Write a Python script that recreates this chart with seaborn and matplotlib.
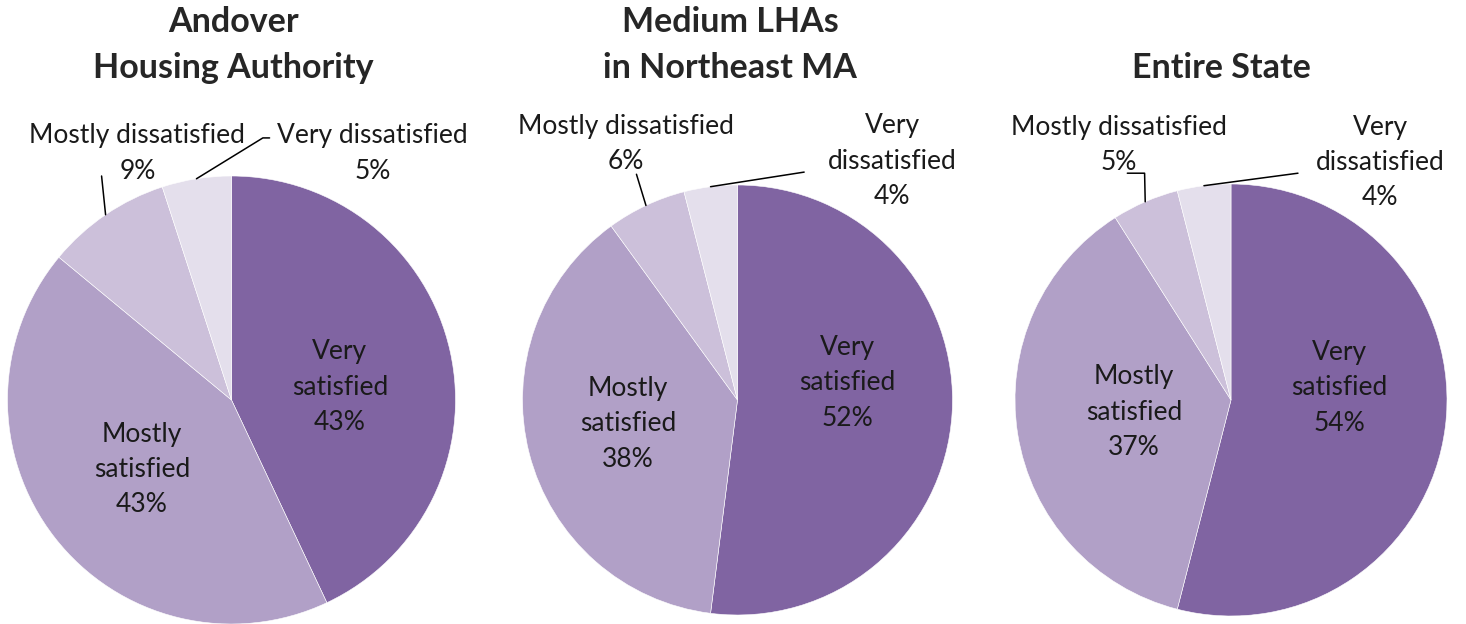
import matplotlib
matplotlib.use("Agg")
import matplotlib.pyplot as plt
import seaborn as sns
import numpy as np

# satisfaction survey shares (%), slices go clockwise from 12 o'clock
categories = ["Very satisfied", "Mostly satisfied", "Mostly dissatisfied", "Very dissatisfied"]
andover = [43, 43, 9, 5]
medium_ne = [52, 38, 6, 4]
entire_state = [54, 37, 5, 4]
titles = ["Andover\nHousing Authority", "Medium LHAs\nin Northeast MA", "Entire State"]

colors = ["#8064A2", "#B1A0C7", "#CCC0DA", "#E4DFEC"]

sns.set_theme(style="white")
plt.rcParams["font.family"] = ["Lato", "DejaVu Sans"]

W, H = 1466, 624
fig = plt.figure(figsize=(W / 100, H / 100), dpi=100)

# pixel centre / radius of each pie, plus label layout in pie-radius units
panels = [
    dict(vals=andover, cx=231.5, cy=400, r=224, tx=233,
         inner=[(0.484, 0.058), (-0.40, -0.31)],
         md_text=(-0.42, 1.10), md_lbl="Mostly dissatisfied\n{}%", md_path=[(-0.58, 1.0)],
         vd_text=(0.63, 1.10), vd_lbl="Very dissatisfied\n{}%", vd_path=[(0.14, 1.17), (0.17, 1.17)]),
    dict(vals=medium_ne, cx=737.5, cy=400, r=215, tx=730,
         inner=[(0.51, 0.08), (-0.51, -0.11)],
         md_text=(-0.52, 1.19), md_lbl="Mostly dissatisfied\n{}%", md_path=[(-0.47, 1.05)],
         vd_text=(0.72, 1.11), vd_lbl="Very\ndissatisfied\n{}%", vd_path=[(0.31, 1.06)]),
    dict(vals=entire_state, cx=1231, cy=400, r=216, tx=1221,
         inner=[(0.50, 0.056), (-0.45, -0.056)],
         md_text=(-0.52, 1.18), md_lbl="Mostly dissatisfied\n{}%", md_path=[(-0.40, 1.05), (-0.48, 1.05)],
         vd_text=(0.69, 1.10), vd_lbl="Very\ndissatisfied\n{}%", vd_path=[(0.31, 1.05)]),
]

fs = 19
ls = 1.52
txt = dict(ha="center", va="center", fontsize=fs, color="#1a1a1a", linespacing=ls)
for p, title in zip(panels, titles):
    cx, cy, r = p["cx"], p["cy"], p["r"]
    ax = fig.add_axes([(cx - r) / W, (H - cy - r) / H, 2 * r / W, 2 * r / H])
    wedges, _ = ax.pie(p["vals"], colors=colors, startangle=90, counterclock=False,
                       radius=1, wedgeprops=dict(edgecolor="white", linewidth=0.4))
    ax.set_xlim(-1, 1)
    ax.set_ylim(-1, 1)
    ax.set_aspect("equal")
    ax.axis("off")

    v = p["vals"]
    ax.text(*p["inner"][0], f"Very\nsatisfied\n{v[0]}%", **txt)
    ax.text(*p["inner"][1], f"Mostly\nsatisfied\n{v[1]}%", **txt)
    ax.text(*p["md_text"], p["md_lbl"].format(v[2]), **txt)
    ax.text(*p["vd_text"], p["vd_lbl"].format(v[3]), **txt)

    # leader lines from slice edge
    for w, path in [(wedges[2], p["md_path"]), (wedges[3], p["vd_path"])]:
        mid = np.deg2rad((w.theta1 + w.theta2) / 2)
        xs = [np.cos(mid)] + [q[0] for q in path]
        ys = [np.sin(mid)] + [q[1] for q in path]
        ax.plot(xs, ys, color="black", lw=1.1, clip_on=False)

    if "\n" in title:
        fig.text(p["tx"] / W, (H - 45) / H, title, ha="center", va="center",
                 fontsize=24.5, fontweight="bold", linespacing=1.55)
    else:
        fig.text(p["tx"] / W, (H - 68) / H, title, ha="center", va="center",
                 fontsize=24.5, fontweight="bold")

fig.savefig("out.png", dpi=100)
